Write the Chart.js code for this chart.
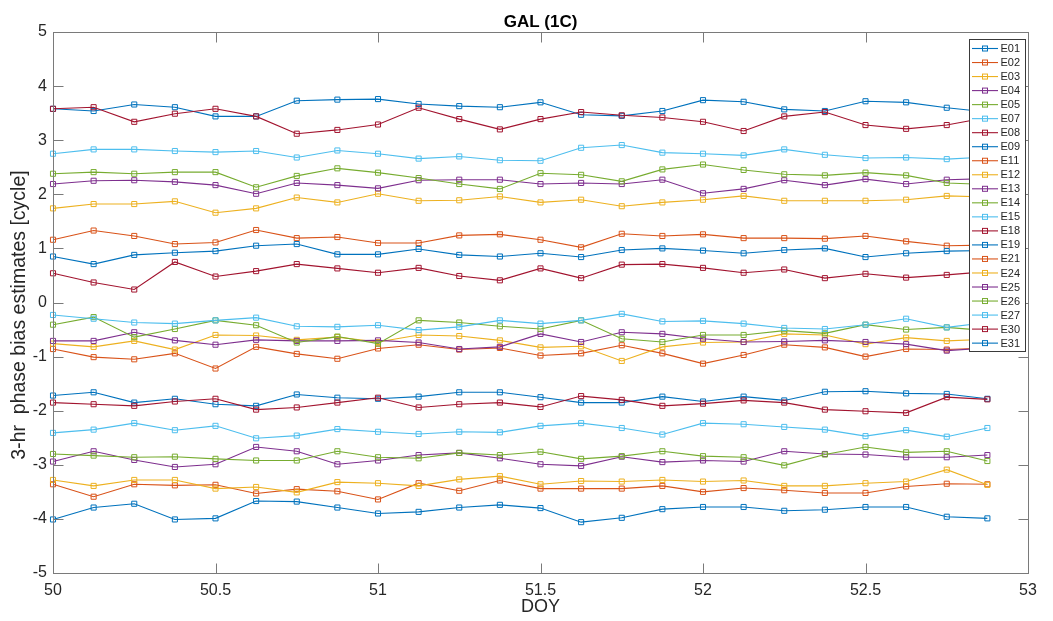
<!DOCTYPE html>
<html>
<head>
<meta charset="utf-8">
<title>GAL (1C)</title>
<script src="https://cdn.jsdelivr.net/npm/chart.js@4/dist/chart.umd.min.js"></script>
<style>
  html, body { margin: 0; padding: 0; background: #fff; }
  #wrap { width: 1053px; height: 621px; }
</style>
</head>
<body>
<div id="wrap"><canvas id="biasChart"></canvas></div>
<script>
// epochs (DOY), 3-hour steps
const doy = [50, 50.125, 50.25, 50.375, 50.5, 50.625, 50.75, 50.875,
             51, 51.125, 51.25, 51.375, 51.5, 51.625, 51.75, 51.875,
             52, 52.125, 52.25, 52.375, 52.5, 52.625, 52.75, 52.875];

const xTicks = [50, 50.5, 51, 51.5, 52, 52.5, 53];
const yTicks = [-5, -4, -3, -2, -1, 0, 1, 2, 3, 4, 5];

const sats = ['E01', 'E02', 'E03', 'E04', 'E05', 'E07', 'E08', 'E09', 'E11', 'E12', 'E13',
              'E14', 'E15', 'E18', 'E19', 'E21', 'E24', 'E25', 'E26', 'E27', 'E30', 'E31'];

// phase bias per satellite [cycle]
const E01 = [3.58, 3.54, 3.66, 3.61, 3.44, 3.44, 3.73, 3.75, 3.76, 3.67, 3.63, 3.61, 3.70, 3.47, 3.45, 3.54, 3.74, 3.71, 3.57, 3.54, 3.72, 3.70, 3.60, 3.52];
const E02 = [1.16, 1.33, 1.23, 1.08, 1.11, 1.34, 1.19, 1.21, 1.10, 1.10, 1.24, 1.26, 1.16, 1.02, 1.27, 1.23, 1.26, 1.19, 1.19, 1.18, 1.23, 1.13, 1.05, 1.06];
const E03 = [1.74, 1.82, 1.82, 1.87, 1.66, 1.74, 1.94, 1.85, 2.01, 1.88, 1.89, 1.96, 1.85, 1.90, 1.78, 1.85, 1.90, 1.97, 1.88, 1.88, 1.88, 1.90, 1.97, 1.95];
const E04 = [2.19, 2.25, 2.26, 2.23, 2.17, 2.01, 2.21, 2.17, 2.11, 2.26, 2.27, 2.27, 2.19, 2.21, 2.19, 2.27, 2.02, 2.10, 2.26, 2.17, 2.28, 2.19, 2.27, 2.29];
const E05 = [2.38, 2.41, 2.38, 2.41, 2.41, 2.13, 2.34, 2.48, 2.40, 2.30, 2.19, 2.10, 2.39, 2.36, 2.24, 2.46, 2.55, 2.45, 2.37, 2.35, 2.40, 2.35, 2.21, 2.18];
const E07 = [2.75, 2.83, 2.83, 2.80, 2.78, 2.80, 2.68, 2.81, 2.75, 2.66, 2.70, 2.63, 2.62, 2.86, 2.91, 2.77, 2.75, 2.72, 2.83, 2.73, 2.67, 2.68, 2.65, 2.69];
const E08 = [3.58, 3.61, 3.34, 3.49, 3.58, 3.44, 3.12, 3.19, 3.29, 3.60, 3.39, 3.20, 3.39, 3.52, 3.46, 3.42, 3.34, 3.17, 3.44, 3.52, 3.28, 3.21, 3.28, 3.42];
const E09 = [0.85, 0.71, 0.88, 0.92, 0.95, 1.05, 1.08, 0.89, 0.89, 0.99, 0.88, 0.85, 0.91, 0.84, 0.97, 1.00, 0.96, 0.91, 0.97, 1.00, 0.84, 0.91, 0.95, 0.96];
const E11 = [-0.86, -1.01, -1.05, -0.94, -1.22, -0.82, -0.95, -1.04, -0.85, -0.78, -0.87, -0.84, -0.98, -0.94, -0.79, -0.94, -1.13, -0.97, -0.78, -0.83, -1.00, -0.86, -0.87, -0.84];
const E12 = [-0.76, -0.82, -0.71, -0.87, -0.60, -0.61, -0.69, -0.64, -0.73, -0.60, -0.62, -0.70, -0.83, -0.81, -1.08, -0.82, -0.74, -0.73, -0.58, -0.60, -0.77, -0.65, -0.71, -0.68];
const E13 = [-0.71, -0.71, -0.55, -0.70, -0.78, -0.69, -0.71, -0.71, -0.70, -0.74, -0.86, -0.82, -0.58, -0.73, -0.55, -0.58, -0.67, -0.73, -0.72, -0.70, -0.73, -0.77, -0.89, -0.84];
const E14 = [-0.41, -0.27, -0.64, -0.49, -0.33, -0.42, -0.74, -0.63, -0.76, -0.33, -0.37, -0.44, -0.49, -0.33, -0.67, -0.73, -0.60, -0.60, -0.52, -0.57, -0.41, -0.50, -0.46, -0.52];
const E15 = [-0.23, -0.30, -0.37, -0.39, -0.33, -0.28, -0.44, -0.45, -0.42, -0.51, -0.45, -0.33, -0.39, -0.33, -0.21, -0.35, -0.34, -0.39, -0.47, -0.49, -0.41, -0.30, -0.46, -0.37];
const E18 = [0.54, 0.37, 0.24, 0.75, 0.48, 0.58, 0.71, 0.63, 0.55, 0.64, 0.49, 0.41, 0.63, 0.45, 0.70, 0.71, 0.64, 0.55, 0.61, 0.45, 0.53, 0.46, 0.51, 0.57];
const E19 = [-1.72, -1.66, -1.85, -1.78, -1.88, -1.91, -1.70, -1.76, -1.78, -1.74, -1.66, -1.66, -1.75, -1.85, -1.85, -1.74, -1.83, -1.74, -1.81, -1.65, -1.64, -1.68, -1.69, -1.78];
const E21 = [-3.36, -3.59, -3.36, -3.38, -3.37, -3.53, -3.45, -3.49, -3.64, -3.34, -3.48, -3.29, -3.44, -3.44, -3.44, -3.39, -3.50, -3.43, -3.47, -3.52, -3.52, -3.40, -3.35, -3.36];
const E24 = [-3.28, -3.39, -3.28, -3.28, -3.44, -3.41, -3.51, -3.32, -3.34, -3.39, -3.27, -3.21, -3.36, -3.30, -3.31, -3.28, -3.31, -3.29, -3.39, -3.39, -3.34, -3.31, -3.09, -3.37];
const E25 = [-2.94, -2.75, -2.91, -3.04, -2.99, -2.67, -2.75, -2.99, -2.92, -2.82, -2.78, -2.88, -2.99, -3.02, -2.85, -2.95, -2.92, -2.94, -2.75, -2.80, -2.81, -2.86, -2.86, -2.82];
const E26 = [-2.80, -2.83, -2.86, -2.85, -2.89, -2.92, -2.92, -2.75, -2.86, -2.88, -2.78, -2.82, -2.76, -2.89, -2.84, -2.75, -2.84, -2.86, -3.01, -2.81, -2.67, -2.77, -2.75, -2.93];
const E27 = [-2.41, -2.35, -2.23, -2.36, -2.28, -2.51, -2.46, -2.34, -2.39, -2.43, -2.39, -2.40, -2.28, -2.23, -2.32, -2.44, -2.23, -2.25, -2.30, -2.35, -2.47, -2.36, -2.48, -2.32];
const E30 = [-1.85, -1.88, -1.91, -1.83, -1.78, -1.98, -1.94, -1.85, -1.76, -1.94, -1.88, -1.85, -1.93, -1.73, -1.80, -1.91, -1.87, -1.81, -1.85, -1.98, -2.01, -2.04, -1.75, -1.79];
const E31 = [-4.01, -3.79, -3.72, -4.01, -3.99, -3.67, -3.68, -3.79, -3.90, -3.87, -3.79, -3.74, -3.80, -4.06, -3.98, -3.82, -3.78, -3.78, -3.85, -3.83, -3.78, -3.78, -3.96, -3.99];

const series = [E01, E02, E03, E04, E05, E07, E08, E09, E11, E12, E13,
                E14, E15, E18, E19, E21, E24, E25, E26, E27, E30, E31];

// matlab default line color order
const colorOrder = ['#0072BD', '#D95319', '#EDB120', '#7E2F8E', '#77AC30', '#4DBEEE', '#A2142F'];

const FONT = "Arial, 'Liberation Sans', Helvetica, sans-serif";
const TEXT = '#262626';
const AXIS = '#7a7a7a';

const datasets = sats.map((name, i) => ({
    label: name,
    data: series[i].map((v, k) => ({ x: doy[k], y: v })),
    borderColor: colorOrder[i % 7],
    borderWidth: 1.1,
    pointStyle: 'rect',
    pointRadius: 3.6,
    pointBorderWidth: 1,
    pointBackgroundColor: 'rgba(0,0,0,0)',
    pointBorderColor: colorOrder[i % 7],
    tension: 0,
    fill: false,
    clip: false,
    order: -i
}));

// box, inward ticks, labels and legend drawn like a matlab axes
const matlabAxes = {
    id: 'matlabAxes',
    afterDraw(chart) {
        const { ctx, chartArea: a, scales: { x, y } } = chart;
        const L = Math.round(a.left) + 0.5, R = Math.round(a.right) + 0.5;
        const T = Math.round(a.top) + 0.5, B = Math.round(a.bottom) + 0.5;
        ctx.save();
        ctx.strokeStyle = AXIS;
        ctx.lineWidth = 1;
        ctx.strokeRect(L, T, R - L, B - T);
        ctx.beginPath();
        xTicks.forEach(v => {
            const px = Math.round(x.getPixelForValue(v)) + 0.5;
            ctx.moveTo(px, B); ctx.lineTo(px, B - 10);
            ctx.moveTo(px, T); ctx.lineTo(px, T + 10);
        });
        yTicks.forEach(v => {
            const py = Math.round(y.getPixelForValue(v)) + 0.5;
            ctx.moveTo(L, py); ctx.lineTo(L + 10, py);
            ctx.moveTo(R, py); ctx.lineTo(R - 10, py);
        });
        ctx.stroke();

        // titles
        const cx = (a.left + a.right) / 2;
        ctx.fillStyle = '#000';
        ctx.textAlign = 'center';
        ctx.textBaseline = 'middle';
        ctx.font = 'bold 17px ' + FONT;
        ctx.fillText('GAL (1C)', cx, 22);
        ctx.fillStyle = TEXT;
        ctx.font = '18px ' + FONT;
        ctx.fillText('DOY', cx, 607);
        ctx.save();
        ctx.translate(20, 315);
        ctx.rotate(-Math.PI / 2);
        ctx.font = '19.5px ' + FONT;
        ctx.fillText('3-hr  phase bias estimates [cycle]', 0, 0);
        ctx.restore();

        // legend
        const lx = 969, ly = 39, lw = 56, lh = 312, step = 14.03;
        ctx.fillStyle = '#fff';
        ctx.fillRect(lx, ly, lw, lh);
        ctx.strokeStyle = '#3a3a3a';
        ctx.strokeRect(lx + 0.5, ly + 0.5, lw, lh);
        ctx.font = '11px ' + FONT;
        ctx.textAlign = 'left';
        chart.data.datasets.forEach((ds, i) => {
            const yy = 48.5 + i * step;
            ctx.strokeStyle = ds.borderColor;
            ctx.lineWidth = 1.1;
            ctx.beginPath();
            ctx.moveTo(972, yy); ctx.lineTo(998, yy);
            ctx.stroke();
            ctx.lineWidth = 1;
            ctx.strokeRect(982.5, yy - 2.5, 5, 5);
            ctx.fillStyle = TEXT;
            ctx.fillText(ds.label, 1000.5, yy + 0.5);
        });
        ctx.restore();
    }
};

new Chart(document.getElementById('biasChart'), {
    type: 'line',
    data: { datasets },
    options: {
        responsive: true,
        maintainAspectRatio: false,
        animation: false,
        events: [],
        layout: { padding: { top: 32, right: 25, left: 0, bottom: 0 } },
        plugins: {
            legend: { display: false },
            title: { display: false },
            tooltip: { enabled: false }
        },
        scales: {
            x: {
                type: 'linear',
                min: 50,
                max: 53,
                afterFit: s => { s.height = 48; },
                afterBuildTicks: s => { s.ticks = xTicks.map(v => ({ value: v })); },
                grid: { display: false, drawTicks: false },
                border: { display: false },
                ticks: {
                    padding: 8,
                    color: TEXT,
                    font: { family: FONT, size: 16 },
                    maxRotation: 0,
                    callback: v => String(v)
                }
            },
            y: {
                min: -5,
                max: 5,
                afterFit: s => { s.width = 53; },
                afterBuildTicks: s => { s.ticks = yTicks.map(v => ({ value: v })); },
                grid: { display: false, drawTicks: false },
                border: { display: false },
                ticks: {
                    padding: 6,
                    color: TEXT,
                    font: { family: FONT, size: 16 },
                    callback: v => String(v)
                }
            }
        }
    },
    plugins: [matlabAxes]
});
</script>
</body>
</html>
